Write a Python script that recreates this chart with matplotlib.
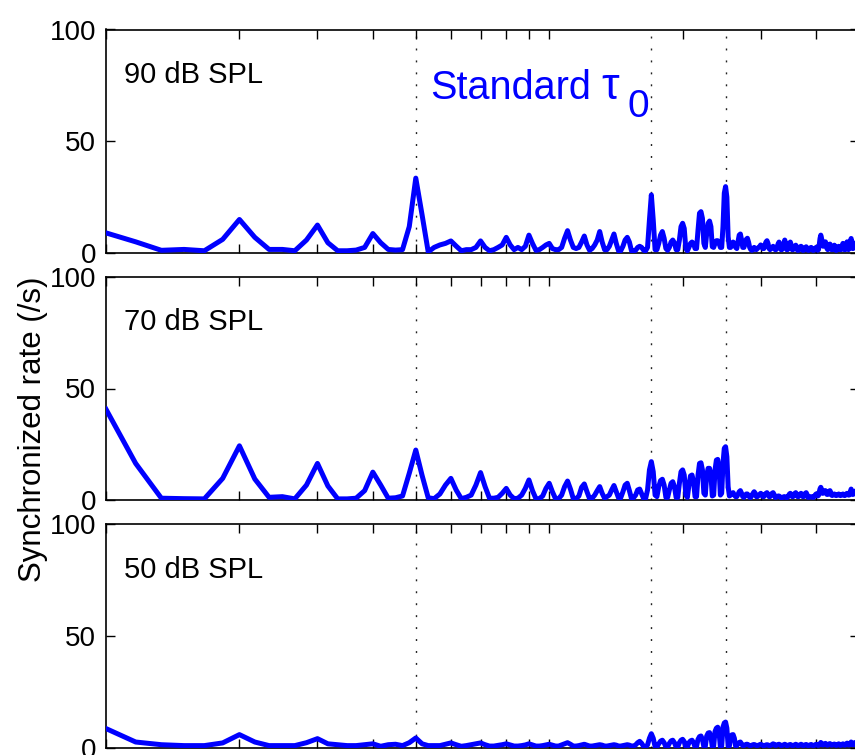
import numpy as np
import matplotlib
matplotlib.use("Agg")
import matplotlib.pyplot as plt

plt.rcParams['font.family'] = ['Liberation Sans', 'DejaVu Sans']

# sampling grid: lag values 1 .. 50 in steps of 1/6
lag = np.arange(6, 301) / 6.0

# synchronized rate (/s), rows = integer n, values at n, n+1/6, ..., n+5/6
rate_90 = [
    [9, 5, 1.2, 1.6, 1.0, 6.1],
    [15, 7, 1.6, 1.6, 1.0, 5.8],
    [12.5, 4.6, 1.0, 1.0, 1.3, 2.5],
    [8.7, 4.6, 1.6, 1.3, 1.5, 11.8],
    [33.5, 17, 0.5, 2.5, 3.6, 4.3],
    [5.4, 3.1, 1.0, 1.5, 1.5, 2.5],
    [5.4, 2.5, 1.0, 1.5, 2.5, 3.6],
    [7, 3.6, 1.5, 2.5, 1.5, 3.0],
    [8, 4.3, 1.2, 1.5, 2.5, 3.6],
    [4.3, 2.0, 1.5, 1.5, 2.5, 6.6],
    [10, 5.8, 2.5, 2.0, 2.5, 4.9],
    [7.6, 3.6, 1.2, 2.0, 3.6, 5.8],
    [9.6, 4.9, 1.5, 1.5, 3.0, 5.8],
    [8.5, 4.3, 1.0, 1.0, 3.0, 5.8],
    [7, 4.9, 1.0, 1.0, 1.2, 2.5],
    [3, 2.5, 1.2, 1.0, 2.5, 14.8],
    [26, 14.8, 1.5, 1.5, 4.3, 8],
    [9.6, 6.6, 2.0, 1.2, 2.5, 4.9],
    [5.8, 4.5, 1.5, 1.5, 5.8, 11.8],
    [13.3, 11, 2.0, 1.0, 2.5, 4.3],
    [4.9, 4.3, 2.0, 2.0, 10.3, 17.8],
    [18.5, 15.5, 4.3, 2.5, 8.8, 13.3],
    [14.3, 11.8, 2.8, 2.5, 4.3, 5.5],
    [5.5, 4.3, 2.5, 2.5, 11.8, 26.8],
    [29.7, 25, 7.3, 2.5, 2.5, 4.3],
    [4.9, 4.3, 2.5, 2.0, 4.9, 8],
    [8.5, 5.8, 2.5, 2.5, 4.3, 6.1],
    [6.6, 4.9, 2.5, 1.5, 1.2, 1.5],
    [2.5, 2.0, 1.5, 2.0, 2.5, 2.8],
    [3.6, 3.0, 2.0, 2.0, 3.6, 4.9],
    [5.5, 4.3, 2.0, 1.5, 2.0, 2.5],
    [3.0, 2.5, 1.5, 1.5, 2.5, 4.0],
    [4.9, 3.5, 1.5, 1.5, 3.0, 4.5],
    [5.8, 4.0, 1.5, 1.5, 3.0, 4.3],
    [4.9, 3.5, 1.5, 1.5, 2.5, 3.0],
    [3.5, 2.5, 1.2, 1.2, 2.0, 2.8],
    [3.0, 2.5, 1.2, 1.2, 2.0, 2.5],
    [2.8, 2.2, 1.2, 1.2, 1.8, 2.3],
    [2.5, 2.0, 1.2, 1.2, 1.5, 2.0],
    [2.5, 2.0, 1.2, 1.5, 3.5, 6.5],
    [8, 6.5, 4.0, 3.0, 4.0, 4.9],
    [5, 4.0, 2.0, 1.5, 2.5, 3.5],
    [4, 3.0, 1.5, 1.5, 2.0, 3.0],
    [3.5, 2.5, 1.2, 1.2, 2.0, 2.8],
    [3, 2.5, 1.5, 1.5, 2.5, 3.5],
    [4.3, 3.0, 1.5, 1.5, 2.5, 3.5],
    [5, 3.5, 1.5, 2.0, 4.0, 5.5],
    [6.5, 4.5, 2.0, 2.0, 3.0, 4.0],
    [4.5, 3.5, 2.0, 2.0, 2.5, 3.0],
    [3.0],
]

rate_70 = [
    [40.7, 16.4, 0.8, 0.6, 0.5, 9.7],
    [24.3, 9.4, 1.2, 1.5, 0.5, 6.7],
    [16.4, 6.3, 0.5, 0.5, 0.8, 4.2],
    [12.5, 6.7, 0.8, 1.0, 1.8, 12.0],
    [22.4, 11, 1.0, 0.6, 2.7, 6.7],
    [9.7, 4.5, 0.6, 1.2, 2.2, 6.7],
    [12.3, 6, 0.8, 0.8, 1.2, 3],
    [5.2, 2.2, 0.6, 0.8, 2.2, 5.2],
    [9, 4.2, 0.6, 0.6, 1.8, 5.2],
    [7.5, 3.7, 0.6, 0.6, 2.2, 6],
    [8.5, 4.9, 0.6, 0.6, 1.8, 5.7],
    [7.2, 3.7, 0.6, 0.8, 2.2, 4.2],
    [6, 3, 0.8, 1.5, 2.2, 4.5],
    [6.5, 3.7, 1.0, 1.0, 3.7, 6.7],
    [7.5, 4.2, 0.6, 1.0, 2.2, 4.5],
    [4.9, 2.7, 0.6, 0.6, 4.5, 13.5],
    [17.2, 12.7, 2.2, 1.5, 6, 8.7],
    [9.3, 6.7, 1.2, 1.2, 4.5, 7.5],
    [8.2, 6, 1.2, 1.2, 7.5, 12.7],
    [13.5, 11.2, 2.2, 1.2, 6.7, 10.8],
    [11.2, 8.2, 1.5, 1.5, 11.2, 16.4],
    [16.7, 13.5, 3, 2.2, 11.2, 14.2],
    [14.2, 11.2, 1.8, 2.2, 13.5, 17.9],
    [18.2, 14.2, 2.2, 3, 16.4, 23.2],
    [23.9, 19.4, 6, 1.8, 2.2, 3],
    [3.3, 2.2, 1.5, 1.5, 2.5, 3.7],
    [4.2, 3, 1.5, 1.2, 1.8, 2.7],
    [2.7, 2.0, 1.2, 1.2, 2.0, 3.0],
    [3.7, 3.0, 1.5, 1.5, 2.0, 2.5],
    [3.0, 2.5, 1.5, 1.5, 2.5, 3.0],
    [3.3, 2.5, 1.5, 1.5, 2.5, 3.0],
    [3.3, 2.5, 1.2, 1.2, 1.5, 1.8],
    [1.8, 1.5, 1.0, 1.0, 1.2, 1.5],
    [1.5, 1.3, 1.0, 1.2, 2.0, 2.7],
    [3.0, 2.5, 1.5, 1.5, 2.5, 3.0],
    [3.3, 2.5, 1.5, 1.5, 2.0, 2.7],
    [3.0, 2.5, 1.5, 1.5, 2.5, 3.0],
    [3.3, 2.5, 1.2, 1.2, 1.3, 1.5],
    [1.5, 1.3, 1.2, 1.2, 1.8, 2.3],
    [2.7, 2.5, 1.8, 2.0, 3.5, 5.0],
    [5.7, 4.8, 3.0, 3.0, 3.8, 4.2],
    [4.2, 3.5, 2.5, 2.5, 3.5, 4.0],
    [4.2, 3.5, 2.2, 2.0, 2.2, 2.5],
    [2.7, 2.5, 2.0, 2.0, 2.2, 2.5],
    [2.7, 2.5, 2.0, 2.0, 2.2, 2.5],
    [2.7, 2.5, 2.0, 2.0, 2.5, 2.8],
    [3.0, 2.8, 2.2, 2.2, 3.0, 4.0],
    [4.9, 4.0, 2.5, 2.5, 3.0, 3.8],
    [4.0, 3.5, 2.5, 2.5, 3.0, 3.5],
    [3.5],
]

rate_50 = [
    [8.8, 2.8, 1.6, 1.2, 1.2, 2.4],
    [6.1, 2.8, 1.2, 1.2, 1.2, 2.5],
    [4.3, 2.0, 1.6, 1.2, 1.2, 1.6],
    [2.0, 0.9, 1.6, 1.8, 1.2, 2.5],
    [4.6, 2.0, 1.2, 1.2, 1.2, 1.8],
    [2.4, 1.6, 0.9, 1.2, 1.6, 2.0],
    [2.4, 1.6, 1.0, 1.0, 1.3, 1.6],
    [2.0, 1.5, 1.0, 1.0, 1.2, 1.5],
    [2.0, 1.5, 1.0, 1.0, 1.2, 1.5],
    [1.8, 1.4, 1.0, 1.0, 1.5, 2.0],
    [2.5, 1.8, 1.0, 1.0, 1.2, 1.5],
    [1.8, 1.4, 1.0, 1.0, 1.2, 1.4],
    [1.6, 1.4, 1.0, 1.0, 1.2, 1.4],
    [1.6, 1.4, 1.0, 1.0, 1.2, 1.4],
    [1.6, 1.4, 1.0, 1.0, 1.5, 2.5],
    [3.1, 2.2, 0.8, 0.6, 1.5, 4.5],
    [6.5, 4.5, 0.8, 0.6, 2.0, 3.2],
    [3.6, 2.5, 0.6, 0.6, 2.2, 3.3],
    [3.6, 2.5, 0.6, 0.6, 2.5, 3.6],
    [4.0, 3.0, 0.6, 0.6, 2.5, 3.3],
    [3.6, 2.5, 0.6, 0.8, 4.0, 5.2],
    [5.5, 4.0, 0.6, 0.8, 5.5, 6.8],
    [7.0, 5.2, 0.6, 1.0, 7.5, 9.0],
    [9.4, 7.0, 0.6, 1.0, 9.5, 11.3],
    [11.7, 9.0, 1.0, 1.0, 5.0, 6.0],
    [6.1, 4.5, 1.0, 1.2, 2.0, 2.6],
    [2.8, 2.0, 1.2, 1.2, 1.5, 1.8],
    [1.8, 1.5, 1.2, 1.2, 1.4, 1.6],
    [1.7, 1.5, 1.2, 1.2, 1.4, 1.6],
    [1.8, 1.6, 1.2, 1.2, 1.3, 1.5],
    [1.6, 1.5, 1.2, 1.2, 1.4, 1.7],
    [2.0, 1.8, 1.3, 1.3, 1.5, 1.7],
    [1.8, 1.6, 1.2, 1.2, 1.4, 1.6],
    [1.8, 1.6, 1.2, 1.2, 1.4, 1.6],
    [1.7, 1.5, 1.2, 1.2, 1.4, 1.6],
    [1.8, 1.6, 1.2, 1.2, 1.4, 1.6],
    [1.8, 1.6, 1.2, 1.2, 1.4, 1.6],
    [1.7, 1.5, 1.2, 1.2, 1.4, 1.6],
    [1.7, 1.5, 1.2, 1.2, 1.4, 1.6],
    [1.8, 1.6, 1.3, 1.3, 1.6, 2.0],
    [2.6, 2.2, 1.5, 1.5, 1.8, 2.0],
    [2.2, 1.9, 1.4, 1.4, 1.7, 2.0],
    [2.1, 1.8, 1.4, 1.4, 1.6, 1.8],
    [1.9, 1.7, 1.3, 1.3, 1.5, 1.8],
    [2.0, 1.8, 1.3, 1.3, 1.5, 1.8],
    [2.0, 1.8, 1.4, 1.4, 1.7, 2.1],
    [2.3, 2.0, 1.5, 1.5, 1.9, 2.3],
    [2.8, 2.4, 1.6, 1.6, 2.0, 2.4],
    [2.6, 2.2, 1.6, 1.6, 2.0, 2.3],
    [2.4],
]

levels = ["90 dB SPL", "70 dB SPL", "50 dB SPL"]
marker_lags = [5, 17, 25]
xticks = [1, 2, 3, 4, 5, 6, 7, 8, 9, 10, 20, 30, 40, 50]
yticks = [0, 50, 100]

W, H = 855, 755
fig = plt.figure(figsize=(W / 100, H / 100), dpi=100)

left_px, right_px = 106, 859
panels_px = [(29.5, 253), (277, 500), (524, 748.3)]

for k, (rates, lvl) in enumerate(zip([rate_90, rate_70, rate_50], levels)):
    top, bot = panels_px[k]
    ax = fig.add_axes([left_px / W, 1 - bot / H, (right_px - left_px) / W, (bot - top) / H])
    y = np.concatenate([np.asarray(r, dtype=float) for r in rates])
    for m in marker_lags:
        ax.axvline(m, color='#222222', lw=1.0, dashes=(1.4, 7.2), zorder=1)
    ax.plot(lag, y, color='#0000ff', lw=3.6, solid_joinstyle='round', zorder=3)
    ax.set_xscale('log')
    ax.set_xlim(1, 50)
    ax.set_ylim(0, 100)
    ax.set_xticks(xticks)
    ax.set_xticklabels([])
    ax.xaxis.set_minor_locator(matplotlib.ticker.NullLocator())
    ax.set_yticks(yticks)
    ax.set_yticklabels([str(t) for t in yticks])
    ax.tick_params(axis='both', which='major', direction='in', length=6.5, width=1.0,
                   top=True, right=True, labelsize=20, pad=7)
    for s in ax.spines.values():
        s.set_linewidth(1.2)
    ax.text(0.024, 0.797, lvl, transform=ax.transAxes, fontsize=21,
            va='center', ha='left', color='black')
    if k == 0:
        ax.text(0.430, 0.689, "Standard", transform=ax.transAxes,
                fontsize=28.5, color='#0000ff', va='baseline', ha='left')
        ax.text(0.658, 0.689, "\u03c4", transform=ax.transAxes,
                fontsize=32, color='#0000ff', va='baseline', ha='left')
        ax.text(0.692, 0.609, "0", transform=ax.transAxes,
                fontsize=28, color='#0000ff', va='baseline', ha='left')

fig.text(33 / W, 1 - 429 / H, "Synchronized rate (/s)", rotation=90,
         fontsize=22.5, ha='center', va='center')

fig.savefig("out.png", dpi=100)
